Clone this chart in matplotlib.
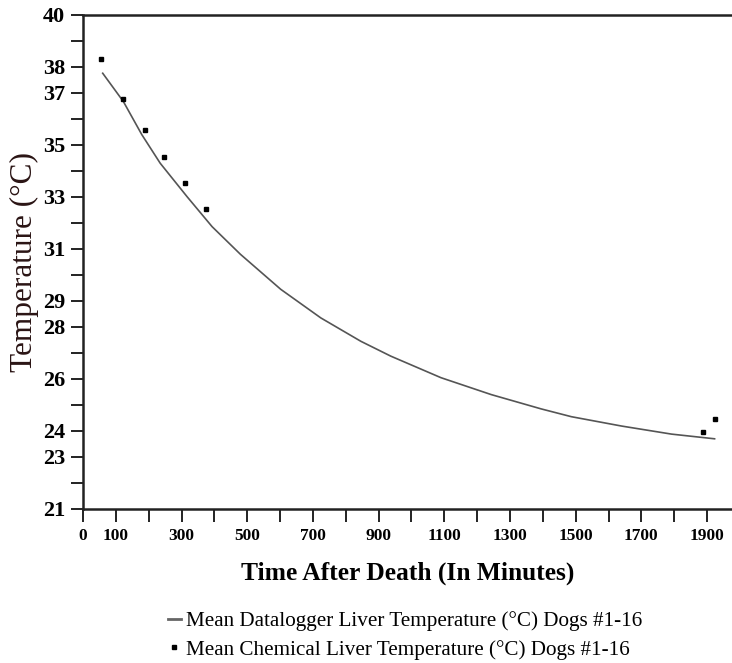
import matplotlib
matplotlib.use("Agg")
import matplotlib.pyplot as plt
from matplotlib.lines import Line2D

plt.rcParams['font.family'] = ['Liberation Serif', 'DejaVu Serif']

# datalogger mean liver temperature curve (minutes, deg C)
logger_min = [60, 123, 179, 235, 317, 393, 479, 602, 724, 846, 937, 1090,
              1243, 1395, 1487, 1640, 1792, 1923]
logger_temp = [37.76, 36.67, 35.40, 34.30, 33.01, 31.86, 30.80, 29.45, 28.35,
               27.45, 26.88, 26.05, 25.40, 24.85, 24.55, 24.19, 23.88, 23.70]

# chemical (thermometer) mean liver temperature readings
chem_min = [55, 123, 190, 246, 312, 373, 1889, 1923]
chem_temp = [38.31, 36.77, 35.58, 34.53, 33.54, 32.55, 23.96, 24.45]

xtick_labels = [0, 100, 300, 500, 700, 900, 1100, 1300, 1500, 1700, 1900]
ytick_labels = [21, 23, 24, 26, 28, 29, 31, 33, 35, 37, 38, 40]

fig = plt.figure(figsize=(7.32, 6.63), dpi=100)
ax = fig.add_axes([83 / 732, 1 - 509 / 663, 1 - 83 / 732, (509 - 15) / 663])

ax.plot(logger_min, logger_temp, color='#555555', lw=1.2)
ax.plot(chem_min, chem_temp, ls='none', marker='s', ms=2.3, color='black')

ax.set_xlim(0, 1976)
ax.set_ylim(21, 40)

ax.set_xticks(range(0, 2000, 100), minor=True)
ax.set_xticks(xtick_labels)
ax.set_xticklabels([str(v) for v in xtick_labels], fontweight='bold', fontsize=12.5)
ax.set_yticks(range(21, 41), minor=True)
ax.set_yticks(ytick_labels)
ax.set_yticklabels([str(v) for v in ytick_labels], fontweight='bold', fontsize=16)

for which in ('major', 'minor'):
    ax.tick_params(axis='both', which=which, direction='out', length=9,
                   width=1.4, color='#222222')
ax.tick_params(axis='x', which='major', pad=5)
ax.tick_params(axis='y', which='major', pad=4)

ax.spines['right'].set_visible(False)
for s in ('left', 'bottom', 'top'):
    ax.spines[s].set_linewidth(1.8)
    ax.spines[s].set_color('#222222')

ax.set_xlabel('Time After Death (In Minutes)', fontsize=18.4, fontweight='bold',
              labelpad=12)
ax.set_ylabel('Temperature (°C)', fontsize=22.5, color='#2a1414', labelpad=3)

handles = [
    Line2D([], [], color='#666666', lw=2),
    Line2D([], [], ls='none', marker='s', ms=2.5, color='black'),
]
labels = ['Mean Datalogger Liver Temperature (°C) Dogs #1-16',
          'Mean Chemical Liver Temperature (°C) Dogs #1-16']
fig.legend(handles, labels, loc='upper left', bbox_to_anchor=(168 / 732, 1 - 611 / 663),
           frameon=False, fontsize=15.2, handlelength=0.6, handletextpad=0.25,
           labelspacing=0.42, borderaxespad=0, borderpad=0)

fig.savefig('out.png', dpi=100)
